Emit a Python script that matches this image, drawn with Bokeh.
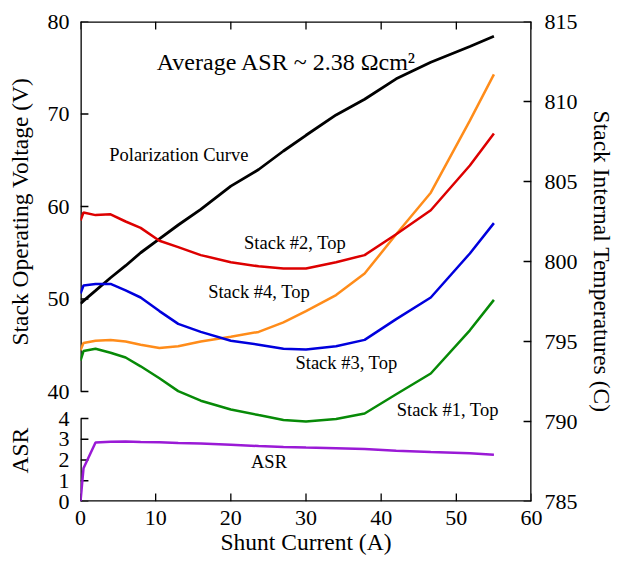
import numpy as np
from bokeh.plotting import figure
from bokeh.models import Range1d, LinearAxis, FixedTicker, CustomJSTickFormatter, Label
from bokeh.embed import file_html
from bokeh.resources import INLINE

# ---------------- data ----------------
current = [0, 0.4, 2, 4, 6, 8, 10.5, 13, 16, 20, 23.7, 27, 30, 34, 37.8, 42, 46.6, 51.8, 55]
polarization_v = [49.5, 49.8, 50.9, 52.3, 53.6, 55.0, 56.5, 58.0, 59.7, 62.2, 64.0, 66.0,
                  67.7, 69.9, 71.6, 73.8, 75.6, 77.3, 78.4]
stack2_top = [802.56, 803.06, 802.9, 802.95, 802.5, 802.1, 801.3, 800.9, 800.4, 799.95,
              799.7, 799.56, 799.56, 799.95, 800.4, 801.7, 803.2, 806.0, 808.0]
stack3_top = [794.45, 794.9, 795.05, 795.1, 795.0, 794.8, 794.6, 794.7, 795.0, 795.3,
              795.6, 796.2, 796.9, 797.9, 799.25, 801.7, 804.3, 808.8, 811.7]
stack4_top = [798.0, 798.5, 798.6, 798.6, 798.2, 797.75, 796.9, 796.1, 795.6, 795.05,
              794.8, 794.55, 794.5, 794.7, 795.1, 796.4, 797.75, 800.5, 802.4]
stack1_top = [793.8, 794.4, 794.55, 794.3, 794.0, 793.45, 792.7, 791.9, 791.3, 790.75,
              790.4, 790.1, 790.0, 790.15, 790.5, 791.7, 793.0, 795.7, 797.6]
asr = [0.0, 1.6, 2.84, 2.88, 2.89, 2.87, 2.85, 2.82, 2.79, 2.74, 2.67, 2.63, 2.6, 2.57,
       2.53, 2.45, 2.39, 2.33, 2.25]

x_ticks = [0, 10, 20, 30, 40, 50, 60]
volt_ticks = [40, 50, 60, 70, 80]
asr_ticks = [0, 1, 2, 3, 4]
temp_ticks = [785, 790, 795, 800, 805, 810, 815]

# ---------------- geometry ----------------
WIDTH, HEIGHT = 617, 563
B_LEFT, B_RIGHT, B_TOP, B_BOTTOM = 80, 82, 21, 62
FRAME_W = WIDTH - B_LEFT - B_RIGHT
FRAME_H = HEIGHT - B_TOP - B_BOTTOM

VOLT_FRAC = 370 / 480   # share of frame height used by the voltage scale (from top)
ASR_FRAC = 83 / 480     # share of frame height used by the ASR scale (from bottom)
v_lo, v_hi = volt_ticks[0], volt_ticks[-1]
volt_start = v_lo - (v_hi - v_lo) * (1 - VOLT_FRAC) / VOLT_FRAC
asr_end = asr_ticks[-1] / ASR_FRAC
x_lo, x_hi = x_ticks[0], x_ticks[-1]
t_lo, t_hi = temp_ticks[0], temp_ticks[-1]
a_lo, a_hi = asr_ticks[0], asr_ticks[-1]

FONT = "Liberation Serif"
INK = "black"

p = figure(width=WIDTH, height=HEIGHT, x_range=Range1d(x_lo, x_hi),
           y_range=Range1d(t_lo, t_hi), y_axis_location="right", output_backend="svg",
           toolbar_location=None, min_border_left=B_LEFT, min_border_right=B_RIGHT,
           min_border_top=B_TOP, min_border_bottom=B_BOTTOM)
p.extra_y_ranges = {"volt": Range1d(volt_start, v_hi), "asr": Range1d(0, asr_end)}
p.xgrid.visible = False
p.ygrid.visible = False
p.outline_line_color = None


def style_axis(ax):
    ax.axis_line_color = None
    ax.major_tick_line_color = None
    ax.minor_tick_line_color = None
    ax.major_tick_in = 0
    ax.major_tick_out = 0
    ax.major_label_text_font = FONT
    ax.major_label_text_font_size = "22px"
    ax.major_label_text_color = INK
    ax.axis_label_text_font = FONT
    ax.axis_label_text_font_size = "23.5px"
    ax.axis_label_text_font_style = "normal"
    ax.axis_label_text_color = INK


xa = p.xaxis[0]
style_axis(xa)
xa.ticker = FixedTicker(ticks=x_ticks)
xa.axis_label = "Shunt Current (A)"
xa.major_label_standoff = 9
xa.axis_label_standoff = 1

ya = p.yaxis[0]
style_axis(ya)
ya.ticker = FixedTicker(ticks=temp_ticks)
ya.axis_label = "Stack Internal Temperatures (C)"
ya.major_label_standoff = 13
ya.axis_label_standoff = 8

# left: voltage ticks on top part, ASR ticks on bottom part, one shared label line
asr_in_volt = [volt_start + a / asr_end * (v_hi - volt_start) for a in asr_ticks]
left = LinearAxis(y_range_name="volt", ticker=FixedTicker(ticks=volt_ticks + asr_in_volt))
style_axis(left)
left.major_label_standoff = 11
left.formatter = CustomJSTickFormatter(
    args=dict(vlo=v_lo, vs=volt_start, ve=v_hi, ae=asr_end),
    code="""
    if (tick >= vlo - 1e-6) return tick.toFixed(0);
    return Math.round((tick - vs) / (ve - vs) * ae).toFixed(0);
    """)
left.axis_label = ("ASR" + "\u2003\u2003\u2003\u2002" + "Stack Operating Voltage (V)"
                   + "\u2003\u2009")
left.axis_label_standoff = 12
p.add_layout(left, "left")

# ---------------- frame lines and inward ticks (drawn as line glyphs) ----------------
SPINE_W = 2.6   # half of it is visible inside the frame
TICK_PX = 8
TICK_W = 1.3
px_x = (x_hi - x_lo) / FRAME_W                 # data units per pixel, x
px_t = (t_hi - t_lo) / FRAME_H                 # temperature units per pixel
px_v = (v_hi - volt_start) / FRAME_H           # volt units per pixel
px_a = asr_end / FRAME_H                       # ASR units per pixel


def tick_path(xs, ys, dx, dy):
    px, py = [], []
    for x, y in zip(xs, ys):
        px += [x, x + dx, np.nan]
        py += [y, y + dy, np.nan]
    return np.array(px, dtype=float), np.array(py, dtype=float)


# spines
p.line([x_lo, x_hi], [t_lo, t_lo], line_color=INK, line_width=SPINE_W)
p.line([x_lo, x_hi], [t_hi, t_hi], line_color=INK, line_width=SPINE_W)
p.line([x_hi, x_hi], [t_lo, t_hi], line_color=INK, line_width=SPINE_W)
p.line([x_lo, x_lo], [v_lo, v_hi], y_range_name="volt", line_color=INK, line_width=SPINE_W)
p.line([x_lo, x_lo], [a_lo, a_hi], y_range_name="asr", line_color=INK, line_width=SPINE_W)

# ticks
bx, by = tick_path(x_ticks, [t_lo] * len(x_ticks), 0, TICK_PX * px_t)
p.line(bx, by, line_color=INK, line_width=TICK_W)
tx, ty = tick_path(x_ticks, [t_hi] * len(x_ticks), 0, -TICK_PX * px_t)
p.line(tx, ty, line_color=INK, line_width=TICK_W)
rx, ry = tick_path([x_hi] * len(temp_ticks), temp_ticks, -TICK_PX * px_x, 0)
p.line(rx, ry, line_color=INK, line_width=TICK_W)
lvx, lvy = tick_path([x_lo] * len(volt_ticks), volt_ticks, TICK_PX * px_x, 0)
p.line(lvx, lvy, y_range_name="volt", line_color=INK, line_width=TICK_W)
lax, lay = tick_path([x_lo] * len(asr_ticks), asr_ticks, TICK_PX * px_x, 0)
p.line(lax, lay, y_range_name="asr", line_color=INK, line_width=TICK_W)

# ---------------- curves ----------------
LW = 2.5
p.line(current, polarization_v, y_range_name="volt", line_color="black", line_width=2.8)
p.line(current, stack3_top, line_color="#ff8c1a", line_width=LW)
p.line(current, stack2_top, line_color="#dd0000", line_width=LW)
p.line(current, stack4_top, line_color="#0000dd", line_width=LW)
p.line(current, stack1_top, line_color="#078a07", line_width=LW)
p.line(current, asr, y_range_name="asr", line_color="#9a1ad6", line_width=LW)

# ---------------- annotations ----------------
notes = [
    ("Average ASR ~ 2.38 \u03a9cm\u00b2", 10.15, 812.45, "24px"),
    ("Polarization Curve", 3.82, 806.65, "18.5px"),
    ("Stack #2, Top", 21.76, 801.15, "18.5px"),
    ("Stack #4, Top", 16.98, 798.09, "18.5px"),
    ("Stack #3, Top", 28.6, 793.65, "18.5px"),
    ("Stack #1, Top", 42.07, 790.71, "18.5px"),
    ("ASR", 22.68, 787.5, "18.5px"),
]
for t, x, y, fs in notes:
    p.add_layout(Label(x=x, y=y, text=t, text_font=FONT, text_font_size=fs,
                       text_color=INK, text_baseline="alphabetic", text_align="left"))

open("out.html", "w").write(file_html(p, INLINE))
